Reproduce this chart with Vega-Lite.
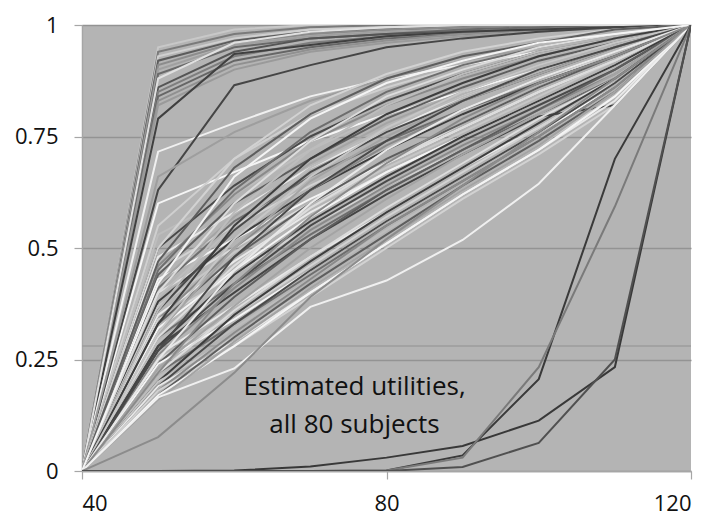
{
  "$schema": "https://vega.github.io/schema/vega-lite/v6.json",
  "width": 609,
  "height": 446,
  "autosize": {"type": "none"},
  "padding": {"left": 82, "top": 25, "right": 26, "bottom": 53},
  "background": "#ffffff",
  "config": {
    "view": {"fill": "#b4b4b4", "stroke": null},
    "font": "Open Sans"
  },
  "datasets": {
    "util": [
{"s":1,"x":40,"u":0},{"s":1,"x":50,"u":0.95},{"s":1,"x":60,"u":0.99},{"s":1,"x":70,"u":1},{"s":1,"x":80,"u":1},{"s":1,"x":90,"u":1},{"s":1,"x":100,"u":1},{"s":1,"x":110,"u":1},{"s":1,"x":120,"u":1},
{"s":2,"x":40,"u":0},{"s":2,"x":50,"u":0.94},{"s":2,"x":60,"u":0.98},{"s":2,"x":70,"u":0.995},{"s":2,"x":80,"u":1},{"s":2,"x":90,"u":1},{"s":2,"x":100,"u":1},{"s":2,"x":110,"u":1},{"s":2,"x":120,"u":1},
{"s":3,"x":40,"u":0},{"s":3,"x":50,"u":0.93},{"s":3,"x":60,"u":0.97},{"s":3,"x":70,"u":0.99},{"s":3,"x":80,"u":0.995},{"s":3,"x":90,"u":1},{"s":3,"x":100,"u":1},{"s":3,"x":110,"u":1},{"s":3,"x":120,"u":1},
{"s":4,"x":40,"u":0},{"s":4,"x":50,"u":0.92},{"s":4,"x":60,"u":0.965},{"s":4,"x":70,"u":0.985},{"s":4,"x":80,"u":0.99},{"s":4,"x":90,"u":0.995},{"s":4,"x":100,"u":1},{"s":4,"x":110,"u":1},{"s":4,"x":120,"u":1},
{"s":5,"x":40,"u":0},{"s":5,"x":50,"u":0.91},{"s":5,"x":60,"u":0.96},{"s":5,"x":70,"u":0.98},{"s":5,"x":80,"u":0.99},{"s":5,"x":90,"u":0.995},{"s":5,"x":100,"u":1},{"s":5,"x":110,"u":1},{"s":5,"x":120,"u":1},
{"s":6,"x":40,"u":0},{"s":6,"x":50,"u":0.90},{"s":6,"x":60,"u":0.955},{"s":6,"x":70,"u":0.975},{"s":6,"x":80,"u":0.985},{"s":6,"x":90,"u":0.99},{"s":6,"x":100,"u":0.995},{"s":6,"x":110,"u":1},{"s":6,"x":120,"u":1},
{"s":7,"x":40,"u":0},{"s":7,"x":50,"u":0.89},{"s":7,"x":60,"u":0.95},{"s":7,"x":70,"u":0.97},{"s":7,"x":80,"u":0.98},{"s":7,"x":90,"u":0.99},{"s":7,"x":100,"u":0.995},{"s":7,"x":110,"u":1},{"s":7,"x":120,"u":1},
{"s":8,"x":40,"u":0},{"s":8,"x":50,"u":0.86},{"s":8,"x":60,"u":0.94},{"s":8,"x":70,"u":0.97},{"s":8,"x":80,"u":0.98},{"s":8,"x":90,"u":0.985},{"s":8,"x":100,"u":0.99},{"s":8,"x":110,"u":0.995},{"s":8,"x":120,"u":1},
{"s":9,"x":40,"u":0},{"s":9,"x":50,"u":0.85},{"s":9,"x":60,"u":0.93},{"s":9,"x":70,"u":0.96},{"s":9,"x":80,"u":0.975},{"s":9,"x":90,"u":0.985},{"s":9,"x":100,"u":0.99},{"s":9,"x":110,"u":0.995},{"s":9,"x":120,"u":1},
{"s":10,"x":40,"u":0},{"s":10,"x":50,"u":0.84},{"s":10,"x":60,"u":0.92},{"s":10,"x":70,"u":0.95},{"s":10,"x":80,"u":0.97},{"s":10,"x":90,"u":0.98},{"s":10,"x":100,"u":0.99},{"s":10,"x":110,"u":0.995},{"s":10,"x":120,"u":1},
{"s":11,"x":40,"u":0},{"s":11,"x":50,"u":0.83},{"s":11,"x":60,"u":0.91},{"s":11,"x":70,"u":0.945},{"s":11,"x":80,"u":0.965},{"s":11,"x":90,"u":0.98},{"s":11,"x":100,"u":0.99},{"s":11,"x":110,"u":0.995},{"s":11,"x":120,"u":1},
{"s":12,"x":40,"u":0},{"s":12,"x":50,"u":0.82},{"s":12,"x":60,"u":0.90},{"s":12,"x":70,"u":0.94},{"s":12,"x":80,"u":0.96},{"s":12,"x":90,"u":0.975},{"s":12,"x":100,"u":0.985},{"s":12,"x":110,"u":0.995},{"s":12,"x":120,"u":1},
{"s":13,"x":40,"u":0},{"s":13,"x":50,"u":0.79},{"s":13,"x":60,"u":0.935},{"s":13,"x":70,"u":0.955},{"s":13,"x":80,"u":0.975},{"s":13,"x":90,"u":0.985},{"s":13,"x":100,"u":0.99},{"s":13,"x":110,"u":0.995},{"s":13,"x":120,"u":1},
{"s":14,"x":40,"u":0},{"s":14,"x":50,"u":0.88},{"s":14,"x":60,"u":0.96},{"s":14,"x":70,"u":0.985},{"s":14,"x":80,"u":0.995},{"s":14,"x":90,"u":1},{"s":14,"x":100,"u":1},{"s":14,"x":110,"u":1},{"s":14,"x":120,"u":1},
{"s":15,"x":40,"u":0},{"s":15,"x":50,"u":0.716},{"s":15,"x":60,"u":0.78},{"s":15,"x":70,"u":0.84},{"s":15,"x":80,"u":0.88},{"s":15,"x":90,"u":0.91},{"s":15,"x":100,"u":0.94},{"s":15,"x":110,"u":0.97},{"s":15,"x":120,"u":1},
{"s":16,"x":40,"u":0},{"s":16,"x":50,"u":0.60},{"s":16,"x":60,"u":0.67},{"s":16,"x":70,"u":0.74},{"s":16,"x":80,"u":0.80},{"s":16,"x":90,"u":0.85},{"s":16,"x":100,"u":0.90},{"s":16,"x":110,"u":0.95},{"s":16,"x":120,"u":1},
{"s":17,"x":40,"u":0},{"s":17,"x":50,"u":0.63},{"s":17,"x":60,"u":0.865},{"s":17,"x":70,"u":0.91},{"s":17,"x":80,"u":0.95},{"s":17,"x":90,"u":0.97},{"s":17,"x":100,"u":0.985},{"s":17,"x":110,"u":0.995},{"s":17,"x":120,"u":1},
{"s":18,"x":40,"u":0},{"s":18,"x":50,"u":0.66},{"s":18,"x":60,"u":0.76},{"s":18,"x":70,"u":0.83},{"s":18,"x":80,"u":0.88},{"s":18,"x":90,"u":0.92},{"s":18,"x":100,"u":0.95},{"s":18,"x":110,"u":0.98},{"s":18,"x":120,"u":1},
{"s":19,"x":40,"u":0},{"s":19,"x":50,"u":0.55},{"s":19,"x":60,"u":0.70},{"s":19,"x":70,"u":0.80},{"s":19,"x":80,"u":0.86},{"s":19,"x":90,"u":0.91},{"s":19,"x":100,"u":0.95},{"s":19,"x":110,"u":0.98},{"s":19,"x":120,"u":1},
{"s":20,"x":40,"u":0},{"s":20,"x":50,"u":0.53},{"s":20,"x":60,"u":0.62},{"s":20,"x":70,"u":0.72},{"s":20,"x":80,"u":0.80},{"s":20,"x":90,"u":0.86},{"s":20,"x":100,"u":0.92},{"s":20,"x":110,"u":0.96},{"s":20,"x":120,"u":1},
{"s":21,"x":40,"u":0},{"s":21,"x":50,"u":0.50},{"s":21,"x":60,"u":0.64},{"s":21,"x":70,"u":0.75},{"s":21,"x":80,"u":0.83},{"s":21,"x":90,"u":0.89},{"s":21,"x":100,"u":0.94},{"s":21,"x":110,"u":0.97},{"s":21,"x":120,"u":1},
{"s":22,"x":40,"u":0},{"s":22,"x":50,"u":0.48},{"s":22,"x":60,"u":0.58},{"s":22,"x":70,"u":0.68},{"s":22,"x":80,"u":0.76},{"s":22,"x":90,"u":0.84},{"s":22,"x":100,"u":0.90},{"s":22,"x":110,"u":0.95},{"s":22,"x":120,"u":1},
{"s":23,"x":40,"u":0},{"s":23,"x":50,"u":0.46},{"s":23,"x":60,"u":0.62},{"s":23,"x":70,"u":0.74},{"s":23,"x":80,"u":0.82},{"s":23,"x":90,"u":0.88},{"s":23,"x":100,"u":0.93},{"s":23,"x":110,"u":0.97},{"s":23,"x":120,"u":1},
{"s":24,"x":40,"u":0},{"s":24,"x":50,"u":0.45},{"s":24,"x":60,"u":0.55},{"s":24,"x":70,"u":0.64},{"s":24,"x":80,"u":0.72},{"s":24,"x":90,"u":0.80},{"s":24,"x":100,"u":0.87},{"s":24,"x":110,"u":0.94},{"s":24,"x":120,"u":1},
{"s":25,"x":40,"u":0},{"s":25,"x":50,"u":0.44},{"s":25,"x":60,"u":0.60},{"s":25,"x":70,"u":0.70},{"s":25,"x":80,"u":0.79},{"s":25,"x":90,"u":0.86},{"s":25,"x":100,"u":0.92},{"s":25,"x":110,"u":0.96},{"s":25,"x":120,"u":1},
{"s":26,"x":40,"u":0},{"s":26,"x":50,"u":0.43},{"s":26,"x":60,"u":0.52},{"s":26,"x":70,"u":0.61},{"s":26,"x":80,"u":0.69},{"s":26,"x":90,"u":0.77},{"s":26,"x":100,"u":0.85},{"s":26,"x":110,"u":0.92},{"s":26,"x":120,"u":1},
{"s":27,"x":40,"u":0},{"s":27,"x":50,"u":0.42},{"s":27,"x":60,"u":0.57},{"s":27,"x":70,"u":0.69},{"s":27,"x":80,"u":0.78},{"s":27,"x":90,"u":0.85},{"s":27,"x":100,"u":0.91},{"s":27,"x":110,"u":0.96},{"s":27,"x":120,"u":1},
{"s":28,"x":40,"u":0},{"s":28,"x":50,"u":0.41},{"s":28,"x":60,"u":0.56},{"s":28,"x":70,"u":0.66},{"s":28,"x":80,"u":0.74},{"s":28,"x":90,"u":0.81},{"s":28,"x":100,"u":0.87},{"s":28,"x":110,"u":0.93},{"s":28,"x":120,"u":1},
{"s":29,"x":40,"u":0},{"s":29,"x":50,"u":0.40},{"s":29,"x":60,"u":0.50},{"s":29,"x":70,"u":0.60},{"s":29,"x":80,"u":0.69},{"s":29,"x":90,"u":0.78},{"s":29,"x":100,"u":0.86},{"s":29,"x":110,"u":0.93},{"s":29,"x":120,"u":1},
{"s":30,"x":40,"u":0},{"s":30,"x":50,"u":0.39},{"s":30,"x":60,"u":0.55},{"s":30,"x":70,"u":0.68},{"s":30,"x":80,"u":0.77},{"s":30,"x":90,"u":0.84},{"s":30,"x":100,"u":0.90},{"s":30,"x":110,"u":0.95},{"s":30,"x":120,"u":1},
{"s":31,"x":40,"u":0},{"s":31,"x":50,"u":0.38},{"s":31,"x":60,"u":0.52},{"s":31,"x":70,"u":0.63},{"s":31,"x":80,"u":0.72},{"s":31,"x":90,"u":0.80},{"s":31,"x":100,"u":0.87},{"s":31,"x":110,"u":0.93},{"s":31,"x":120,"u":1},
{"s":32,"x":40,"u":0},{"s":32,"x":50,"u":0.37},{"s":32,"x":60,"u":0.49},{"s":32,"x":70,"u":0.59},{"s":32,"x":80,"u":0.68},{"s":32,"x":90,"u":0.76},{"s":32,"x":100,"u":0.84},{"s":32,"x":110,"u":0.92},{"s":32,"x":120,"u":1},
{"s":33,"x":40,"u":0},{"s":33,"x":50,"u":0.36},{"s":33,"x":60,"u":0.54},{"s":33,"x":70,"u":0.67},{"s":33,"x":80,"u":0.76},{"s":33,"x":90,"u":0.83},{"s":33,"x":100,"u":0.89},{"s":33,"x":110,"u":0.95},{"s":33,"x":120,"u":1},
{"s":34,"x":40,"u":0},{"s":34,"x":50,"u":0.35},{"s":34,"x":60,"u":0.47},{"s":34,"x":70,"u":0.58},{"s":34,"x":80,"u":0.67},{"s":34,"x":90,"u":0.75},{"s":34,"x":100,"u":0.83},{"s":34,"x":110,"u":0.91},{"s":34,"x":120,"u":1},
{"s":35,"x":40,"u":0},{"s":35,"x":50,"u":0.34},{"s":35,"x":60,"u":0.50},{"s":35,"x":70,"u":0.63},{"s":35,"x":80,"u":0.73},{"s":35,"x":90,"u":0.81},{"s":35,"x":100,"u":0.88},{"s":35,"x":110,"u":0.94},{"s":35,"x":120,"u":1},
{"s":36,"x":40,"u":0},{"s":36,"x":50,"u":0.34},{"s":36,"x":60,"u":0.44},{"s":36,"x":70,"u":0.55},{"s":36,"x":80,"u":0.64},{"s":36,"x":90,"u":0.72},{"s":36,"x":100,"u":0.80},{"s":36,"x":110,"u":0.89},{"s":36,"x":120,"u":1},
{"s":37,"x":40,"u":0},{"s":37,"x":50,"u":0.33},{"s":37,"x":60,"u":0.48},{"s":37,"x":70,"u":0.60},{"s":37,"x":80,"u":0.70},{"s":37,"x":90,"u":0.78},{"s":37,"x":100,"u":0.86},{"s":37,"x":110,"u":0.93},{"s":37,"x":120,"u":1},
{"s":38,"x":40,"u":0},{"s":38,"x":50,"u":0.32},{"s":38,"x":60,"u":0.45},{"s":38,"x":70,"u":0.57},{"s":38,"x":80,"u":0.67},{"s":38,"x":90,"u":0.75},{"s":38,"x":100,"u":0.83},{"s":38,"x":110,"u":0.91},{"s":38,"x":120,"u":1},
{"s":39,"x":40,"u":0},{"s":39,"x":50,"u":0.31},{"s":39,"x":60,"u":0.50},{"s":39,"x":70,"u":0.65},{"s":39,"x":80,"u":0.75},{"s":39,"x":90,"u":0.83},{"s":39,"x":100,"u":0.89},{"s":39,"x":110,"u":0.95},{"s":39,"x":120,"u":1},
{"s":40,"x":40,"u":0},{"s":40,"x":50,"u":0.30},{"s":40,"x":60,"u":0.42},{"s":40,"x":70,"u":0.53},{"s":40,"x":80,"u":0.63},{"s":40,"x":90,"u":0.72},{"s":40,"x":100,"u":0.80},{"s":40,"x":110,"u":0.88},{"s":40,"x":120,"u":1},
{"s":41,"x":40,"u":0},{"s":41,"x":50,"u":0.30},{"s":41,"x":60,"u":0.46},{"s":41,"x":70,"u":0.59},{"s":41,"x":80,"u":0.69},{"s":41,"x":90,"u":0.77},{"s":41,"x":100,"u":0.85},{"s":41,"x":110,"u":0.92},{"s":41,"x":120,"u":1},
{"s":42,"x":40,"u":0},{"s":42,"x":50,"u":0.29},{"s":42,"x":60,"u":0.40},{"s":42,"x":70,"u":0.52},{"s":42,"x":80,"u":0.62},{"s":42,"x":90,"u":0.71},{"s":42,"x":100,"u":0.80},{"s":42,"x":110,"u":0.89},{"s":42,"x":120,"u":1},
{"s":43,"x":40,"u":0},{"s":43,"x":50,"u":0.28},{"s":43,"x":60,"u":0.44},{"s":43,"x":70,"u":0.56},{"s":43,"x":80,"u":0.66},{"s":43,"x":90,"u":0.75},{"s":43,"x":100,"u":0.83},{"s":43,"x":110,"u":0.91},{"s":43,"x":120,"u":1},
{"s":44,"x":40,"u":0},{"s":44,"x":50,"u":0.28},{"s":44,"x":60,"u":0.40},{"s":44,"x":70,"u":0.52},{"s":44,"x":80,"u":0.62},{"s":44,"x":90,"u":0.71},{"s":44,"x":100,"u":0.795},{"s":44,"x":110,"u":0.82},{"s":44,"x":120,"u":1},
{"s":45,"x":40,"u":0},{"s":45,"x":50,"u":0.27},{"s":45,"x":60,"u":0.42},{"s":45,"x":70,"u":0.55},{"s":45,"x":80,"u":0.65},{"s":45,"x":90,"u":0.74},{"s":45,"x":100,"u":0.82},{"s":45,"x":110,"u":0.90},{"s":45,"x":120,"u":1},
{"s":46,"x":40,"u":0},{"s":46,"x":50,"u":0.26},{"s":46,"x":60,"u":0.37},{"s":46,"x":70,"u":0.48},{"s":46,"x":80,"u":0.58},{"s":46,"x":90,"u":0.68},{"s":46,"x":100,"u":0.77},{"s":46,"x":110,"u":0.87},{"s":46,"x":120,"u":1},
{"s":47,"x":40,"u":0},{"s":47,"x":50,"u":0.26},{"s":47,"x":60,"u":0.41},{"s":47,"x":70,"u":0.54},{"s":47,"x":80,"u":0.64},{"s":47,"x":90,"u":0.73},{"s":47,"x":100,"u":0.81},{"s":47,"x":110,"u":0.89},{"s":47,"x":120,"u":1},
{"s":48,"x":40,"u":0},{"s":48,"x":50,"u":0.25},{"s":48,"x":60,"u":0.35},{"s":48,"x":70,"u":0.46},{"s":48,"x":80,"u":0.57},{"s":48,"x":90,"u":0.67},{"s":48,"x":100,"u":0.77},{"s":48,"x":110,"u":0.87},{"s":48,"x":120,"u":1},
{"s":49,"x":40,"u":0},{"s":49,"x":50,"u":0.24},{"s":49,"x":60,"u":0.39},{"s":49,"x":70,"u":0.52},{"s":49,"x":80,"u":0.63},{"s":49,"x":90,"u":0.72},{"s":49,"x":100,"u":0.81},{"s":49,"x":110,"u":0.90},{"s":49,"x":120,"u":1},
{"s":50,"x":40,"u":0},{"s":50,"x":50,"u":0.24},{"s":50,"x":60,"u":0.34},{"s":50,"x":70,"u":0.45},{"s":50,"x":80,"u":0.56},{"s":50,"x":90,"u":0.66},{"s":50,"x":100,"u":0.76},{"s":50,"x":110,"u":0.86},{"s":50,"x":120,"u":1},
{"s":51,"x":40,"u":0},{"s":51,"x":50,"u":0.23},{"s":51,"x":60,"u":0.37},{"s":51,"x":70,"u":0.50},{"s":51,"x":80,"u":0.61},{"s":51,"x":90,"u":0.71},{"s":51,"x":100,"u":0.80},{"s":51,"x":110,"u":0.89},{"s":51,"x":120,"u":1},
{"s":52,"x":40,"u":0},{"s":52,"x":50,"u":0.22},{"s":52,"x":60,"u":0.33},{"s":52,"x":70,"u":0.44},{"s":52,"x":80,"u":0.55},{"s":52,"x":90,"u":0.65},{"s":52,"x":100,"u":0.75},{"s":52,"x":110,"u":0.86},{"s":52,"x":120,"u":1},
{"s":53,"x":40,"u":0},{"s":53,"x":50,"u":0.22},{"s":53,"x":60,"u":0.36},{"s":53,"x":70,"u":0.48},{"s":53,"x":80,"u":0.59},{"s":53,"x":90,"u":0.69},{"s":53,"x":100,"u":0.79},{"s":53,"x":110,"u":0.88},{"s":53,"x":120,"u":1},
{"s":54,"x":40,"u":0},{"s":54,"x":50,"u":0.21},{"s":54,"x":60,"u":0.32},{"s":54,"x":70,"u":0.43},{"s":54,"x":80,"u":0.54},{"s":54,"x":90,"u":0.64},{"s":54,"x":100,"u":0.74},{"s":54,"x":110,"u":0.85},{"s":54,"x":120,"u":1},
{"s":55,"x":40,"u":0},{"s":55,"x":50,"u":0.20},{"s":55,"x":60,"u":0.35},{"s":55,"x":70,"u":0.47},{"s":55,"x":80,"u":0.58},{"s":55,"x":90,"u":0.68},{"s":55,"x":100,"u":0.78},{"s":55,"x":110,"u":0.88},{"s":55,"x":120,"u":1},
{"s":56,"x":40,"u":0},{"s":56,"x":50,"u":0.20},{"s":56,"x":60,"u":0.30},{"s":56,"x":70,"u":0.41},{"s":56,"x":80,"u":0.52},{"s":56,"x":90,"u":0.63},{"s":56,"x":100,"u":0.73},{"s":56,"x":110,"u":0.84},{"s":56,"x":120,"u":1},
{"s":57,"x":40,"u":0},{"s":57,"x":50,"u":0.19},{"s":57,"x":60,"u":0.33},{"s":57,"x":70,"u":0.45},{"s":57,"x":80,"u":0.56},{"s":57,"x":90,"u":0.66},{"s":57,"x":100,"u":0.76},{"s":57,"x":110,"u":0.87},{"s":57,"x":120,"u":1},
{"s":58,"x":40,"u":0},{"s":58,"x":50,"u":0.19},{"s":58,"x":60,"u":0.29},{"s":58,"x":70,"u":0.40},{"s":58,"x":80,"u":0.51},{"s":58,"x":90,"u":0.62},{"s":58,"x":100,"u":0.72},{"s":58,"x":110,"u":0.83},{"s":58,"x":120,"u":1},
{"s":59,"x":40,"u":0},{"s":59,"x":50,"u":0.18},{"s":59,"x":60,"u":0.31},{"s":59,"x":70,"u":0.43},{"s":59,"x":80,"u":0.55},{"s":59,"x":90,"u":0.65},{"s":59,"x":100,"u":0.75},{"s":59,"x":110,"u":0.86},{"s":59,"x":120,"u":1},
{"s":60,"x":40,"u":0},{"s":60,"x":50,"u":0.18},{"s":60,"x":60,"u":0.28},{"s":60,"x":70,"u":0.39},{"s":60,"x":80,"u":0.50},{"s":60,"x":90,"u":0.61},{"s":60,"x":100,"u":0.71},{"s":60,"x":110,"u":0.82},{"s":60,"x":120,"u":1},
{"s":61,"x":40,"u":0},{"s":61,"x":50,"u":0.17},{"s":61,"x":60,"u":0.30},{"s":61,"x":70,"u":0.42},{"s":61,"x":80,"u":0.53},{"s":61,"x":90,"u":0.64},{"s":61,"x":100,"u":0.74},{"s":61,"x":110,"u":0.85},{"s":61,"x":120,"u":1},
{"s":62,"x":40,"u":0},{"s":62,"x":50,"u":0.17},{"s":62,"x":60,"u":0.28},{"s":62,"x":70,"u":0.40},{"s":62,"x":80,"u":0.51},{"s":62,"x":90,"u":0.62},{"s":62,"x":100,"u":0.72},{"s":62,"x":110,"u":0.84},{"s":62,"x":120,"u":1},
{"s":63,"x":40,"u":0},{"s":63,"x":50,"u":0.16},{"s":63,"x":60,"u":0.29},{"s":63,"x":70,"u":0.41},{"s":63,"x":80,"u":0.52},{"s":63,"x":90,"u":0.63},{"s":63,"x":100,"u":0.73},{"s":63,"x":110,"u":0.85},{"s":63,"x":120,"u":1},
{"s":64,"x":40,"u":0},{"s":64,"x":50,"u":0.45},{"s":64,"x":60,"u":0.63},{"s":64,"x":70,"u":0.76},{"s":64,"x":80,"u":0.85},{"s":64,"x":90,"u":0.91},{"s":64,"x":100,"u":0.95},{"s":64,"x":110,"u":0.98},{"s":64,"x":120,"u":1},
{"s":65,"x":40,"u":0},{"s":65,"x":50,"u":0.40},{"s":65,"x":60,"u":0.60},{"s":65,"x":70,"u":0.74},{"s":65,"x":80,"u":0.84},{"s":65,"x":90,"u":0.90},{"s":65,"x":100,"u":0.95},{"s":65,"x":110,"u":0.98},{"s":65,"x":120,"u":1},
{"s":66,"x":40,"u":0},{"s":66,"x":50,"u":0.36},{"s":66,"x":60,"u":0.58},{"s":66,"x":70,"u":0.72},{"s":66,"x":80,"u":0.82},{"s":66,"x":90,"u":0.89},{"s":66,"x":100,"u":0.94},{"s":66,"x":110,"u":0.97},{"s":66,"x":120,"u":1},
{"s":67,"x":40,"u":0},{"s":67,"x":50,"u":0.33},{"s":67,"x":60,"u":0.55},{"s":67,"x":70,"u":0.70},{"s":67,"x":80,"u":0.80},{"s":67,"x":90,"u":0.87},{"s":67,"x":100,"u":0.93},{"s":67,"x":110,"u":0.97},{"s":67,"x":120,"u":1},
{"s":68,"x":40,"u":0},{"s":68,"x":50,"u":0.31},{"s":68,"x":60,"u":0.52},{"s":68,"x":70,"u":0.66},{"s":68,"x":80,"u":0.77},{"s":68,"x":90,"u":0.85},{"s":68,"x":100,"u":0.91},{"s":68,"x":110,"u":0.96},{"s":68,"x":120,"u":1},
{"s":69,"x":40,"u":0},{"s":69,"x":50,"u":0.27},{"s":69,"x":60,"u":0.48},{"s":69,"x":70,"u":0.63},{"s":69,"x":80,"u":0.74},{"s":69,"x":90,"u":0.83},{"s":69,"x":100,"u":0.90},{"s":69,"x":110,"u":0.95},{"s":69,"x":120,"u":1},
{"s":70,"x":40,"u":0},{"s":70,"x":50,"u":0.25},{"s":70,"x":60,"u":0.45},{"s":70,"x":70,"u":0.60},{"s":70,"x":80,"u":0.72},{"s":70,"x":90,"u":0.81},{"s":70,"x":100,"u":0.88},{"s":70,"x":110,"u":0.94},{"s":70,"x":120,"u":1},
{"s":71,"x":40,"u":0},{"s":71,"x":50,"u":0.22},{"s":71,"x":60,"u":0.42},{"s":71,"x":70,"u":0.57},{"s":71,"x":80,"u":0.69},{"s":71,"x":90,"u":0.79},{"s":71,"x":100,"u":0.87},{"s":71,"x":110,"u":0.93},{"s":71,"x":120,"u":1},
{"s":72,"x":40,"u":0},{"s":72,"x":50,"u":0.50},{"s":72,"x":60,"u":0.70},{"s":72,"x":70,"u":0.82},{"s":72,"x":80,"u":0.89},{"s":72,"x":90,"u":0.94},{"s":72,"x":100,"u":0.97},{"s":72,"x":110,"u":0.99},{"s":72,"x":120,"u":1},
{"s":73,"x":40,"u":0},{"s":73,"x":50,"u":0.47},{"s":73,"x":60,"u":0.68},{"s":73,"x":70,"u":0.80},{"s":73,"x":80,"u":0.88},{"s":73,"x":90,"u":0.93},{"s":73,"x":100,"u":0.96},{"s":73,"x":110,"u":0.99},{"s":73,"x":120,"u":1},
{"s":74,"x":40,"u":0},{"s":74,"x":50,"u":0.42},{"s":74,"x":60,"u":0.66},{"s":74,"x":70,"u":0.79},{"s":74,"x":80,"u":0.87},{"s":74,"x":90,"u":0.92},{"s":74,"x":100,"u":0.96},{"s":74,"x":110,"u":0.98},{"s":74,"x":120,"u":1},
{"s":75,"x":40,"u":0},{"s":75,"x":50,"u":0.165},{"s":75,"x":60,"u":0.23},{"s":75,"x":70,"u":0.368},{"s":75,"x":80,"u":0.427},{"s":75,"x":90,"u":0.518},{"s":75,"x":100,"u":0.644},{"s":75,"x":110,"u":0.82},{"s":75,"x":120,"u":1},
{"s":76,"x":40,"u":0},{"s":76,"x":50,"u":0.076},{"s":76,"x":60,"u":0.22},{"s":76,"x":70,"u":0.39},{"s":76,"x":80,"u":0.52},{"s":76,"x":90,"u":0.64},{"s":76,"x":100,"u":0.76},{"s":76,"x":110,"u":0.88},{"s":76,"x":120,"u":1},
{"s":77,"x":40,"u":0},{"s":77,"x":50,"u":0},{"s":77,"x":60,"u":0.001},{"s":77,"x":70,"u":0.01},{"s":77,"x":80,"u":0.03},{"s":77,"x":90,"u":0.056},{"s":77,"x":100,"u":0.113},{"s":77,"x":110,"u":0.233},{"s":77,"x":120,"u":1},
{"s":78,"x":40,"u":0},{"s":78,"x":50,"u":0},{"s":78,"x":60,"u":0},{"s":78,"x":70,"u":0},{"s":78,"x":80,"u":0.001},{"s":78,"x":90,"u":0.035},{"s":78,"x":100,"u":0.206},{"s":78,"x":110,"u":0.70},{"s":78,"x":120,"u":1},
{"s":79,"x":40,"u":0},{"s":79,"x":50,"u":0},{"s":79,"x":60,"u":0},{"s":79,"x":70,"u":0},{"s":79,"x":80,"u":0.001},{"s":79,"x":90,"u":0.03},{"s":79,"x":100,"u":0.233},{"s":79,"x":110,"u":0.593},{"s":79,"x":120,"u":1},
{"s":80,"x":40,"u":0},{"s":80,"x":50,"u":0},{"s":80,"x":60,"u":0},{"s":80,"x":70,"u":0},{"s":80,"x":80,"u":0},{"s":80,"x":90,"u":0.009},{"s":80,"x":100,"u":0.063},{"s":80,"x":110,"u":0.25},{"s":80,"x":120,"u":1}
    ],
    "notes": [
      {"x": 75.8, "u": 0.17, "t": "Estimated utilities,"},
      {"x": 75.8, "u": 0.085, "t": "all 80 subjects"}
    ],
    "ref": [{"u": 0.28}]
  },
  "layer": [
    {
      "data": {"name": "ref"},
      "mark": {"type": "rule", "color": "#9c9c9c", "strokeWidth": 1.5},
      "encoding": {
        "y": {"field": "u", "type": "quantitative", "scale": {"domain": [0, 1]}}
      }
    },
    {
      "data": {"name": "util"},
      "mark": {"type": "line", "strokeWidth": 2, "clip": true},
      "encoding": {
        "x": {
          "field": "x", "type": "quantitative",
          "scale": {"domain": [40, 120], "nice": false, "zero": false},
          "axis": {
            "title": null, "values": [40, 80, 120], "grid": false,
            "domainColor": "#a6a6a6", "domainWidth": 1.5, "tickColor": "#a6a6a6", "tickSize": 8, "tickWidth": 1.2,
            "labelFont": "Open Sans", "labelFontSize": 22, "labelColor": "#111111", "labelPadding": 14
          }
        },
        "y": {
          "field": "u", "type": "quantitative",
          "scale": {"domain": [0, 1], "nice": false},
          "axis": {
            "title": null, "values": [0, 0.25, 0.5, 0.75, 1], "labelExpr": "'' + datum.value",
            "grid": true, "gridColor": "#939393", "gridWidth": 1.5,
            "domainColor": "#a6a6a6", "domainWidth": 1.5, "tickColor": "#a6a6a6", "tickSize": 8, "tickWidth": 1.2,
            "labelFont": "Open Sans", "labelFontSize": 22, "labelColor": "#111111", "labelPadding": 16
          }
        },
        "color": {
          "field": "s", "type": "nominal", "legend": null,
          "scale": {
            "domain": [1,2,3,4,5,6,7,8,9,10,11,12,13,14,15,16,17,18,19,20,21,22,23,24,25,26,27,28,29,30,31,32,33,34,35,36,37,38,39,40,41,42,43,44,45,46,47,48,49,50,51,52,53,54,55,56,57,58,59,60,61,62,63,64,65,66,67,68,69,70,71,72,73,74,75,76,77,78,79,80],
            "range": ["#c8c8c8","#7a7a7a","#d0d0d0","#5c5c5c","#8c8c8c","#a0a0a0","#6a6a6a","#555555","#7e7e7e","#666666","#909090","#9a9a9a","#404040","#e0e0e0","#f0f0f0","#f5f5f5","#454545","#9e9e9e","#cfcfcf","#bdbdbd",
              "#4a4a4a","#e8e8e8","#8a8a8a","#d2d2d2","#5e5e5e","#f4f4f4","#a4a4a4","#6e6e6e","#dcdcdc","#bcbcbc","#3e3e3e","#c6c6c6",
              "#4a4a4a","#e8e8e8","#8a8a8a","#d2d2d2","#5e5e5e","#f4f4f4","#a4a4a4","#6e6e6e","#dcdcdc","#bcbcbc","#3e3e3e","#454545",
              "#4a4a4a","#e8e8e8","#8a8a8a","#d2d2d2","#5e5e5e","#f4f4f4","#a4a4a4","#6e6e6e","#dcdcdc","#bcbcbc","#3e3e3e","#c6c6c6",
              "#4a4a4a","#e8e8e8","#8a8a8a","#d2d2d2","#5e5e5e","#f4f4f4","#a4a4a4","#6e6e6e","#dcdcdc","#bcbcbc","#3e3e3e","#c6c6c6",
              "#4a4a4a","#e8e8e8","#8a8a8a","#d2d2d2","#5e5e5e","#f4f4f4",
              "#f0f0f0","#8c8c8c","#383838","#3a3a3a","#7a7a7a","#505050"]
          }
        }
      }
    },
    {
      "data": {"name": "notes"},
      "mark": {"type": "text", "font": "Open Sans", "fontSize": 26, "align": "center", "baseline": "alphabetic", "color": "#111111"},
      "encoding": {
        "x": {"field": "x", "type": "quantitative"},
        "y": {"field": "u", "type": "quantitative"},
        "text": {"field": "t", "type": "nominal"}
      }
    }
  ]
}
